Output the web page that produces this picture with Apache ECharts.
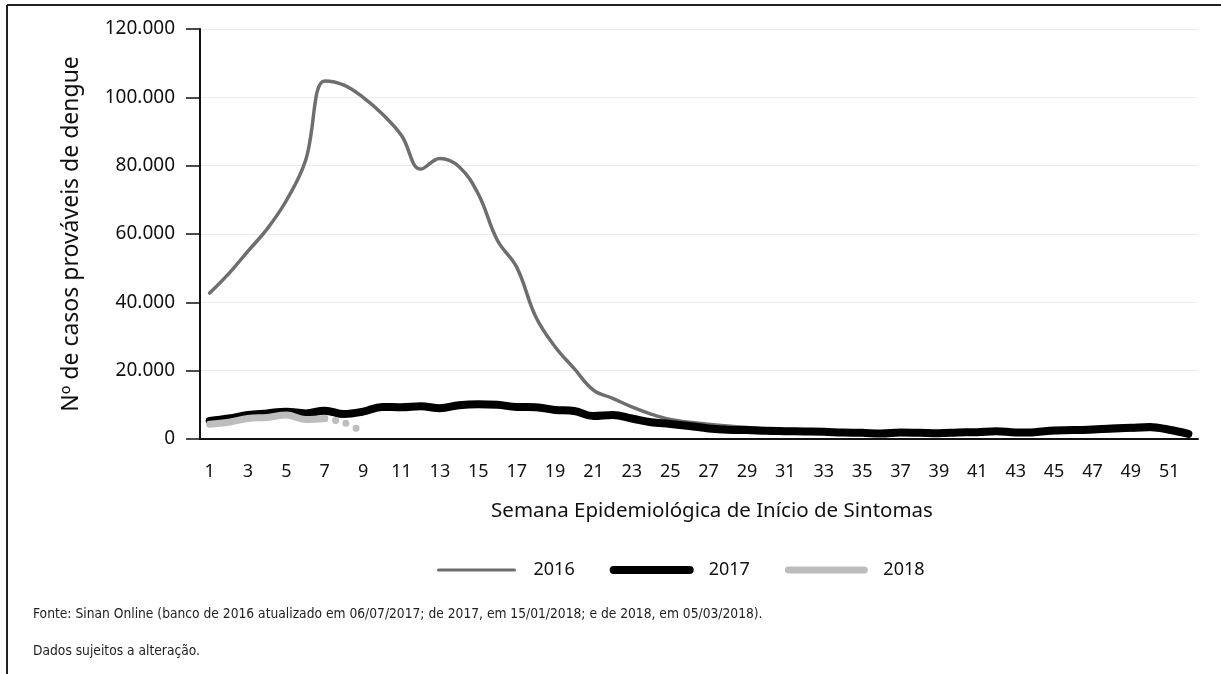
<!DOCTYPE html>
<html>
<head>
<meta charset="utf-8">
<script src="https://cdn.jsdelivr.net/npm/echarts@6/dist/echarts.min.js"></script>
<style>
  html, body { margin: 0; padding: 0; background: #fff; }
  #chart { width: 1221px; height: 674px; }
</style>
</head>
<body>
<div id="chart"></div>
<script>
// semanas epidemiológicas 1..52
const weeks = [];
for (let i = 1; i <= 52; i++) weeks.push(String(i));

const cases2016 = [
  42700, 48400, 55000, 61500, 69800, 81500, 104800, 103600, 100000, 95100,
  88800, 79000, 82100, 79700, 71700, 58100, 50300, 35700, 27000, 20600,
  14300, 11900, 9400, 7300, 5700, 4900, 4300, 3800, 3400, 3000,
  2600, 2300, 2100, 1900, 1700, 1500, 1500, 1400, 1400, 1500,
  1600, 1700, 1600, 1700, 1900, 2000, 2200, 2400, 2600, 2800,
  2200, 1200
];

const cases2017 = [
  5300, 6000, 7000, 7500, 8000, 7500, 8300, 7300, 8000, 9400,
  9300, 9600, 9000, 9900, 10200, 10000, 9400, 9300, 8500, 8200,
  6700, 7000, 6000, 4900, 4400, 3800, 3100, 2700, 2600, 2400,
  2300, 2200, 2100, 1900, 1800, 1600, 1900, 1800, 1700, 1900,
  2000, 2300, 1900, 2000, 2500, 2600, 2800, 3100, 3300, 3500,
  2700, 1500
];

const cases2018 = [4300, 4900, 6000, 6300, 7000, 5700, 6000];
// trecho pontilhado (semanas 7 a 9)
const cases2018Partial = [null, null, null, null, null, null, 6000, 4800, 2000];

const yTicks = [0, 20000, 40000, 60000, 80000, 100000, 120000];

function fmtPt(v) {
  return String(v).replace(/\B(?=(\d{3})+(?!\d))/g, '.');
}

const chart = echarts.init(document.getElementById('chart'));

const option = {
  animation: false,
  textStyle: { fontFamily: 'Noto Sans' },
  grid: { left: 200, right: 23, top: 29, bottom: 235 },
  legend: {
    data: [
      { name: '2016', itemStyle: { opacity: 0 }, lineStyle: { width: 3, cap: 'round' } },
      { name: '2017', itemStyle: { opacity: 0 }, lineStyle: { width: 8, cap: 'round' } },
      { name: '2018', itemStyle: { opacity: 0 }, lineStyle: { width: 7, cap: 'round' } }
    ],
    top: 556,
    left: 432,
    itemWidth: 76,
    itemHeight: 12,
    itemGap: 35,
    textStyle: { fontSize: 18, color: '#111', padding: [0, 0, 0, 14] }
  },
  xAxis: {
    type: 'category',
    data: weeks,
    boundaryGap: true,
    name: 'Semana Epidemiológica de Início de Sintomas',
    nameLocation: 'middle',
    nameGap: 62,
    nameTextStyle: { fontSize: 20.5, color: '#111', padding: [0, 0, 0, 26] },
    axisLine: { lineStyle: { color: '#111', width: 2 } },
    axisTick: { show: false },
    axisLabel: { interval: 1, fontSize: 18, color: '#111', margin: 24 }
  },
  yAxis: {
    type: 'value',
    min: 0,
    max: 120000,
    interval: 20000,
    name: 'Nº de casos prováveis de dengue',
    nameLocation: 'middle',
    nameGap: 117,
    nameTextStyle: { fontSize: 23, color: '#111' },
    axisLine: { show: true, lineStyle: { color: '#111', width: 2 } },
    axisTick: { show: true, length: 14, lineStyle: { color: '#111', width: 1.5 } },
    axisLabel: {
      fontSize: 19,
      color: '#111',
      margin: 25,
      formatter: function (v) { return yTicks.indexOf(v) >= 0 ? fmtPt(v) : ''; }
    },
    splitLine: { show: true, lineStyle: { color: '#ececec', width: 1 } }
  },
  series: [
    {
      name: '2016',
      type: 'line',
      data: cases2016,
      smooth: 0.4,
      showSymbol: false,
      z: 2,
      lineStyle: { color: '#6e6e6e', width: 3.5, cap: 'round' },
      itemStyle: { color: '#6e6e6e' }
    },
    {
      name: '2017',
      type: 'line',
      data: cases2017,
      smooth: 0.4,
      showSymbol: false,
      z: 3,
      lineStyle: { color: '#000', width: 8, cap: 'round' },
      itemStyle: { color: '#000' }
    },
    {
      name: '2018',
      type: 'line',
      data: cases2018,
      smooth: 0.4,
      showSymbol: false,
      z: 4,
      lineStyle: { color: '#bdbdbd', width: 7, cap: 'round' },
      itemStyle: { color: '#bdbdbd' }
    },
    {
      name: '2018 parcial',
      type: 'line',
      data: cases2018Partial,
      smooth: 0.3,
      showSymbol: false,
      z: 4,
      lineStyle: { color: '#bdbdbd', width: 7, cap: 'round', type: [0, 11] }
    }
  ],
  graphic: [
    {
      type: 'line',
      shape: { x1: 7, y1: 5, x2: 1221, y2: 5 },
      style: { stroke: '#222', lineWidth: 2 }
    },
    {
      type: 'line',
      shape: { x1: 7, y1: 5, x2: 7, y2: 674 },
      style: { stroke: '#222', lineWidth: 2 }
    },
    {
      type: 'text',
      left: 33,
      top: 607,
      style: {
        text: 'Fonte: Sinan Online (banco de 2016 atualizado em 06/07/2017; de 2017, em 15/01/2018; e de 2018, em 05/03/2018).',
        font: '13.7px "DejaVu Sans Condensed", "Roboto Condensed", "Liberation Sans Narrow", sans-serif',
        fill: '#222'
      }
    },
    {
      type: 'text',
      left: 33,
      top: 644,
      style: {
        text: 'Dados sujeitos a alteração.',
        font: '13.7px "DejaVu Sans Condensed", "Roboto Condensed", "Liberation Sans Narrow", sans-serif',
        fill: '#222'
      }
    }
  ]
};

chart.setOption(option);
</script>
</body>
</html>
